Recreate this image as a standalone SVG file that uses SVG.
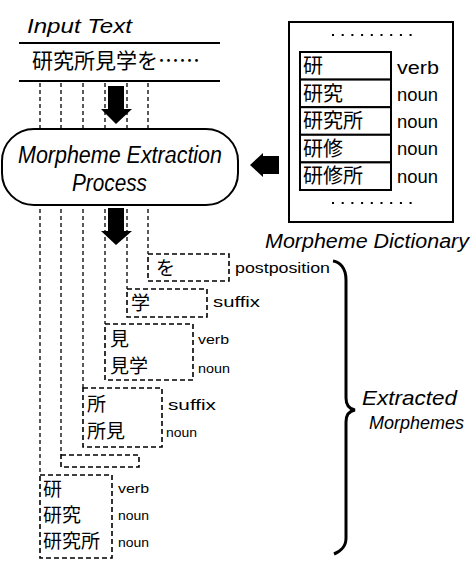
<svg xmlns="http://www.w3.org/2000/svg" width="472" height="562" viewBox="0 0 472 562">
<style>
.it{font-family:"Liberation Sans",Arial,sans-serif;font-style:italic;fill:#000}
.lb{font-family:"Liberation Sans",Arial,sans-serif;fill:#000}
.jp{font-family:"Noto Sans CJK JP","Noto Sans CJK SC",sans-serif;fill:#000}
.vl{stroke:#000;stroke-width:1.3;stroke-dasharray:4,3;fill:none}
.db{stroke:#000;stroke-width:1.6;stroke-dasharray:5,3;fill:#fff}
.solid{stroke:#000;stroke-width:2;fill:none}
.row{stroke:#000;stroke-width:2;fill:#fff}
.dots{stroke:#000;stroke-width:2;stroke-dasharray:2,7.7}
</style>
<rect width="472" height="562" fill="#fff"/>

<g id="input-text">
<text class="it" x="27" y="33" font-size="21" textLength="105" lengthAdjust="spacingAndGlyphs">Input Text</text>
<line class="solid" x1="19" y1="43" x2="220" y2="43"/>
<text class="jp" x="32" y="68" font-size="21">研究所見学を……</text>
<line class="solid" x1="19" y1="81" x2="220" y2="81"/>
</g>

<g id="connectors">
<line class="vl" x1="40" y1="83" x2="40" y2="475"/>
<line class="vl" x1="61" y1="83" x2="61" y2="455"/>
<line class="vl" x1="83" y1="83" x2="83" y2="388"/>
<line class="vl" x1="105" y1="83" x2="105" y2="324"/>
<line class="vl" x1="127" y1="83" x2="127" y2="289"/>
<line class="vl" x1="148" y1="83" x2="148" y2="254"/>
<polygon points="108,86 124,86 124,109 132,109 116,124 101,109 108,109" fill="#000"/>
<polygon points="108,208 124,208 124,231 132,231 116,245 101,231 108,231" fill="#000"/>
<polygon points="279,156 263,156 263,153 250,165 263,177 263,174 279,174" fill="#000"/>
<path d="M333,261 C340,262 346,268 346,280 L346,398 C346,405 349,409 355,410 C349,411 346,415 346,422 L346,538 C346,547 341,551 334,554" stroke="#000" stroke-width="3" fill="none"/>
</g>

<g id="process">
<rect x="2" y="129" width="236" height="76" rx="32" ry="32" fill="#fff" stroke="#000" stroke-width="2"/>
<text class="it" x="18" y="163" font-size="23" textLength="204" lengthAdjust="spacingAndGlyphs">Morpheme Extraction</text>
<text class="it" x="72" y="191" font-size="23" textLength="75" lengthAdjust="spacingAndGlyphs">Process</text>
</g>

<g id="dictionary">
<rect x="289" y="22" width="164" height="200" fill="#fff" stroke="#000" stroke-width="2"/>
<line class="dots" x1="332" y1="35" x2="412" y2="35"/>
<rect class="row" x="300" y="52" width="91" height="27.6"/>
<rect class="row" x="300" y="79.6" width="91" height="27.6"/>
<rect class="row" x="300" y="107.2" width="91" height="27.6"/>
<rect class="row" x="300" y="134.8" width="91" height="27.6"/>
<rect class="row" x="300" y="162.4" width="91" height="27.6"/>
<text class="jp" x="303" y="73" font-size="20">研</text>
<text class="jp" x="303" y="100.5" font-size="20">研究</text>
<text class="jp" x="303" y="128" font-size="20">研究所</text>
<text class="jp" x="303" y="155.5" font-size="20">研修</text>
<text class="jp" x="303" y="183" font-size="20">研修所</text>
<text class="lb" x="397" y="74" font-size="18" textLength="42" lengthAdjust="spacingAndGlyphs">verb</text>
<text class="lb" x="397" y="101" font-size="18" textLength="41" lengthAdjust="spacingAndGlyphs">noun</text>
<text class="lb" x="397" y="128" font-size="18" textLength="41" lengthAdjust="spacingAndGlyphs">noun</text>
<text class="lb" x="397" y="155" font-size="18" textLength="41" lengthAdjust="spacingAndGlyphs">noun</text>
<text class="lb" x="397" y="183" font-size="18" textLength="41" lengthAdjust="spacingAndGlyphs">noun</text>
<line class="dots" x1="332" y1="203" x2="412" y2="203"/>
<text class="it" x="265" y="248" font-size="20" textLength="204" lengthAdjust="spacingAndGlyphs">Morpheme Dictionary</text>
</g>

<g id="m-wo">
<rect class="db" x="148" y="254" width="81" height="27"/>
<text class="jp" x="156" y="275" font-size="19">を</text>
<text class="lb" x="235" y="273" font-size="14" textLength="95" lengthAdjust="spacingAndGlyphs">postposition</text>
</g>

<g id="m-gaku">
<rect class="db" x="127" y="289" width="80" height="28"/>
<text class="jp" x="131" y="310" font-size="19">学</text>
<text class="lb" x="213" y="307" font-size="15" textLength="47" lengthAdjust="spacingAndGlyphs">suffix</text>
</g>

<g id="m-mi">
<rect class="db" x="105" y="324" width="88" height="56"/>
<text class="jp" x="110" y="346" font-size="19">見</text>
<text class="jp" x="110" y="373" font-size="19">見学</text>
<text class="lb" x="198" y="344" font-size="13" textLength="31" lengthAdjust="spacingAndGlyphs">verb</text>
<text class="lb" x="198" y="373" font-size="12" textLength="32" lengthAdjust="spacingAndGlyphs">noun</text>
</g>

<g id="m-sho">
<rect class="db" x="83" y="388" width="79" height="59"/>
<text class="jp" x="87" y="411" font-size="19">所</text>
<text class="jp" x="87" y="438" font-size="19">所見</text>
<text class="lb" x="168" y="410" font-size="15" textLength="48" lengthAdjust="spacingAndGlyphs">suffix</text>
<text class="lb" x="166" y="437" font-size="13" textLength="31" lengthAdjust="spacingAndGlyphs">noun</text>
</g>

<g id="m-empty">
<rect class="db" x="61" y="455" width="78" height="12"/>
</g>

<g id="m-ken">
<rect class="db" x="40" y="475" width="72" height="83"/>
<text class="jp" x="43" y="496" font-size="19">研</text>
<text class="jp" x="43" y="522" font-size="19">研究</text>
<text class="jp" x="43" y="548" font-size="19">研究所</text>
<text class="lb" x="118" y="493" font-size="12" textLength="31" lengthAdjust="spacingAndGlyphs">verb</text>
<text class="lb" x="118" y="520" font-size="12" textLength="31" lengthAdjust="spacingAndGlyphs">noun</text>
<text class="lb" x="118" y="547" font-size="12" textLength="31" lengthAdjust="spacingAndGlyphs">noun</text>
</g>

<g id="extracted-label">
<text class="it" x="362" y="405" font-size="21" textLength="95" lengthAdjust="spacingAndGlyphs">Extracted</text>
<text class="it" x="369" y="429" font-size="18.5" textLength="95" lengthAdjust="spacingAndGlyphs">Morphemes</text>
</g>
</svg>
